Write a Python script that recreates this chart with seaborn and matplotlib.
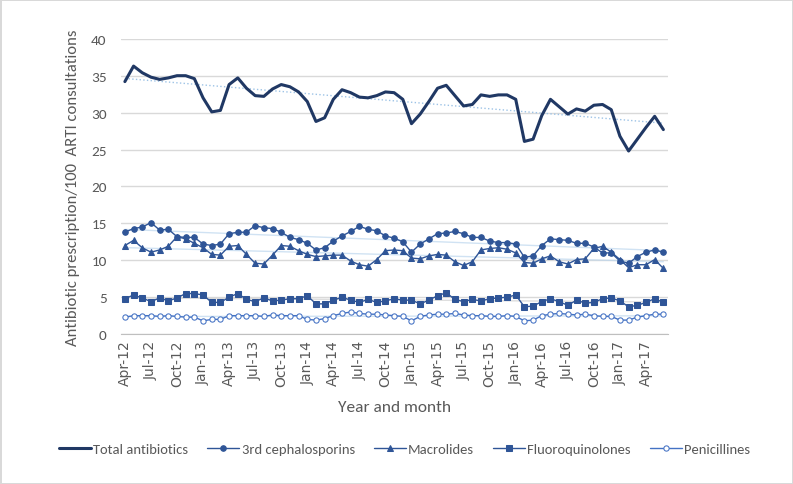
import numpy as np
import pandas as pd
import matplotlib.pyplot as plt
import seaborn as sns

sns.set_style('white')
plt.rcParams['font.family'] = ['Liberation Sans Narrow', 'Carlito', 'DejaVu Sans']

# Monthly values, Apr-12 .. Jun-17
months = pd.date_range('2012-04-01', '2017-06-01', freq='MS')
month_labels = [m.strftime('%b-%y') for m in months]

total = [34.2, 36.3, 35.4, 34.8, 34.5, 34.7, 35.0, 35.0, 34.6, 32.0, 30.1, 30.3,
         33.8, 34.7, 33.3, 32.3, 32.2, 33.2, 33.8, 33.5, 32.8, 31.5, 28.8, 29.3,
         31.8, 33.1, 32.7, 32.1, 32.0, 32.3, 32.8, 32.7, 31.8, 28.5, 29.8, 31.5,
         33.3, 33.7, 32.3, 30.9, 31.1, 32.4, 32.2, 32.4, 32.4, 31.8, 26.1, 26.4,
         29.6, 31.8, 30.8, 29.8, 30.5, 30.2, 31.0, 31.1, 30.4, 26.8, 24.8, 26.4,
         28.0, 29.5, 27.7]
ceph3 = [13.8, 14.3, 14.5, 15.1, 14.1, 14.2, 13.2, 13.1, 13.1, 12.2, 12.0, 12.2,
         13.6, 13.8, 13.8, 14.7, 14.4, 14.3, 13.8, 13.1, 12.8, 12.3, 11.4, 11.7,
         12.6, 13.3, 13.9, 14.6, 14.2, 14.0, 13.3, 13.0, 12.5, 11.1, 12.2, 12.9,
         13.6, 13.7, 13.9, 13.6, 13.1, 13.1, 12.6, 12.4, 12.4, 12.2, 10.4, 10.6,
         12.0, 12.9, 12.8, 12.7, 12.3, 12.3, 11.8, 11.0, 11.0, 9.9, 9.6, 10.5,
         11.1, 11.4, 11.1]
macrolides = [12.0, 12.7, 11.7, 11.1, 11.4, 11.9, 13.2, 12.9, 12.3, 11.7, 10.8, 10.7,
              11.9, 12.0, 10.8, 9.6, 9.5, 10.7, 12.0, 11.9, 11.3, 10.8, 10.5, 10.6,
              10.7, 10.7, 9.9, 9.4, 9.2, 10.1, 11.3, 11.4, 11.3, 10.3, 10.2, 10.6,
              10.8, 10.7, 9.8, 9.3, 9.8, 11.4, 11.6, 11.7, 11.5, 11.0, 9.7, 9.6,
              10.2, 10.6, 9.8, 9.5, 10.1, 10.2, 11.6, 11.9, 11.1, 10.1, 9.0, 9.4,
              9.4, 10.1, 8.9]
fluoro = [4.8, 5.3, 4.9, 4.4, 4.9, 4.5, 4.9, 5.5, 5.5, 5.3, 4.3, 4.3,
          5.0, 5.5, 4.7, 4.4, 4.9, 4.5, 4.6, 4.8, 4.8, 5.2, 4.1, 4.1,
          4.6, 5.0, 4.6, 4.3, 4.7, 4.3, 4.5, 4.8, 4.6, 4.6, 4.1, 4.6,
          5.2, 5.6, 4.7, 4.4, 4.7, 4.5, 4.8, 4.9, 5.0, 5.3, 3.7, 3.8,
          4.4, 4.8, 4.4, 3.9, 4.6, 4.2, 4.3, 4.8, 4.9, 4.5, 3.7, 3.9,
          4.3, 4.8, 4.3]
penicillins = [2.3, 2.5, 2.5, 2.5, 2.4, 2.5, 2.4, 2.3, 2.3, 1.8, 2.0, 2.0,
               2.5, 2.5, 2.5, 2.5, 2.4, 2.6, 2.5, 2.5, 2.5, 2.0, 1.9, 2.1,
               2.5, 2.8, 3.0, 2.8, 2.7, 2.7, 2.6, 2.5, 2.4, 1.8, 2.4, 2.6,
               2.7, 2.7, 2.8, 2.6, 2.5, 2.5, 2.4, 2.4, 2.5, 2.4, 1.8, 1.9,
               2.5, 2.7, 2.8, 2.7, 2.6, 2.7, 2.5, 2.4, 2.4, 1.9, 1.9, 2.3,
               2.5, 2.7, 2.7]

x = np.arange(len(months))

fig = plt.figure(figsize=(7.93, 4.85), dpi=100)
fig.patch.set_edgecolor('#d9d9d9')
fig.patch.set_linewidth(2)
ax = fig.add_axes([0.152, 0.309, 0.690, 0.609])

# faint linear trend lines
for vals, c, ls, a in [(total, '#9dc3e6', ':', 1.0), (ceph3, '#bdd7ee', '-', 0.7),
                       (macrolides, '#bdd7ee', '-', 0.7), (fluoro, '#d0d0d0', '-', 0.7),
                       (penicillins, '#bdd7ee', '-', 0.7)]:
    k, b = np.polyfit(x, vals, 1)
    ax.plot(x, k * x + b, color=c, ls=ls, lw=1.0, alpha=a, zorder=1)

sns.lineplot(x=x, y=total, ax=ax, color='#203864', lw=2.2, label='Total antibiotics', zorder=3)
sns.lineplot(x=x, y=ceph3, ax=ax, color='#2f5597', lw=1, marker='o', markersize=4,
             markeredgecolor='#2f5597', label='3rd cephalosporins', zorder=3)
sns.lineplot(x=x, y=macrolides, ax=ax, color='#2f5597', lw=1, marker='^', markersize=4.5,
             markeredgecolor='#2f5597', label='Macrolides', zorder=3)
sns.lineplot(x=x, y=fluoro, ax=ax, color='#2f5597', lw=1, marker='s', markersize=3.8,
             markeredgecolor='#2f5597', label='Fluoroquinolones', zorder=3)
sns.lineplot(x=x, y=penicillins, ax=ax, color='#4472c4', lw=1, marker='o', markersize=3.8,
             markerfacecolor='white', markeredgecolor='#4472c4', label='Penicillines', zorder=3)

ax.set_xlim(-0.5, len(x) - 0.5)
ax.set_ylim(0, 40)
ax.set_yticks(range(0, 41, 5))
ax.yaxis.grid(True, color='#d9d9d9', lw=1)
ax.set_axisbelow(True)
for s in ['top', 'right', 'left']:
    ax.spines[s].set_visible(False)
ax.spines['bottom'].set_color('#bfbfbf')

ax.set_xticks(x[::3])
ax.set_xticklabels(month_labels[::3], rotation=90, fontsize=10, color='#595959',
                   family=['DejaVu Sans'])
ax.set_xticks(np.arange(-0.5, len(x), 3), minor=True)
ax.tick_params(axis='x', which='major', length=0, pad=4)
ax.tick_params(axis='x', which='minor', length=5, color='#bfbfbf', direction='out')
ax.tick_params(axis='y', length=0, labelsize=11, labelcolor='#595959', pad=10)

ax.set_xlabel('Year and month', fontsize=12.5, color='#595959', labelpad=10)
ax.set_ylabel('Antibiotic prescription/100  ARTI consultations', fontsize=12,
              color='#595959', labelpad=8)

handles, labels = ax.get_legend_handles_labels()
ax.get_legend().remove()
fig.legend(handles, labels, loc='center', bbox_to_anchor=(0.51, 35 / 485), ncol=5,
           frameon=False, fontsize=10.5, handlelength=2.2, columnspacing=1.3,
           handletextpad=0.15, labelcolor='#595959')

fig.savefig('out.png', dpi=100, edgecolor=fig.get_edgecolor())
